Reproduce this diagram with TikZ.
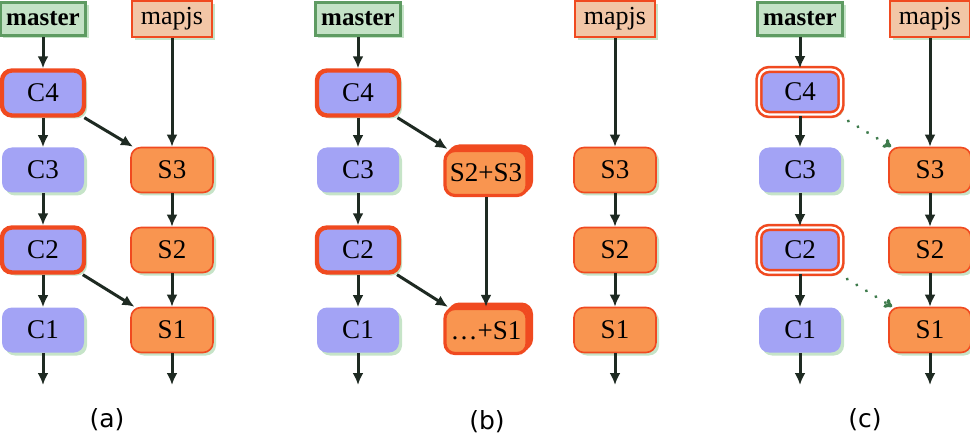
\documentclass[tikz,border=0pt]{standalone}
\usepackage{fontspec}
\setmainfont{Liberation Serif}
\newfontfamily\labelfont{DejaVu Sans}
\usetikzlibrary{shadows,arrows.meta}
\definecolor{cblue}{HTML}{A3A3F5}
\definecolor{corange}{HTML}{F99550}
\definecolor{cred}{HTML}{F04A20}
\definecolor{mgreenfill}{HTML}{C4E2C6}
\definecolor{mgreen}{HTML}{5E9B62}
\definecolor{mapfill}{HTML}{F2C6A6}
\definecolor{shadowgreen}{HTML}{C6E4C8}
\definecolor{dotgreen}{HTML}{3E7B4C}
\definecolor{arrowc}{HTML}{1E2A22}
\begin{document}
\begin{tikzpicture}[x=0.5pt,y=-0.5pt,
  every node/.style={font=\fontsize{13.5}{16}\selectfont},
  gshadow/.style={drop shadow={shadow xshift=1.5pt,shadow yshift=-1.5pt,fill=shadowgreen,opacity=1}},
  box/.style={rectangle,rounded corners=5pt,minimum width=41pt,minimum height=22.5pt,inner sep=0pt,gshadow},
  commit/.style={box,fill=cblue},
  patch/.style={box,fill=corange,draw=cred,line width=0.8pt},
  head/.style={draw=cred,line width=2.2pt},
  dhead/.style={draw=cred,line width=1.3pt,double=white,double distance=1.1pt},
  stacked/.style={rectangle,rounded corners=5pt,minimum width=41pt,minimum height=22.5pt,inner sep=0pt,
    fill=corange,draw=cred,line width=1.6pt,double copy shadow={shadow xshift=1.1pt,shadow yshift=1.1pt}},
  masterbox/.style={rectangle,fill=mgreenfill,draw=mgreen,line width=1.6pt,minimum height=16.5pt,inner xsep=3pt,inner ysep=0pt,font=\bfseries\fontsize{12.5}{15}\selectfont,gshadow},
  mapbox/.style={rectangle,fill=mapfill,draw=cred,line width=1.3pt,minimum height=18pt,inner xsep=4.5pt,inner ysep=0pt,font=\fontsize{13}{15}\selectfont,gshadow},
  arr/.style={-{Latex[length=6pt,width=5.5pt]},line width=1.5pt,draw=arrowc},
  darr/.style={-{To[length=4pt,width=5pt]},line width=1.6pt,draw=dotgreen,dash pattern=on 0.1pt off 5.5pt,line cap=round,shorten <=5pt},
  lab/.style={font=\labelfont\fontsize{12.5}{15}\selectfont}
]
\useasboundingbox (0,0) rectangle (970,444);

% ---------- panel (a)
\node[masterbox] (am) at (43,19) {master};
\node[mapbox] (aj) at (172,19) {mapjs};
\node[commit,head] (ac4) at (43,93) {C4};
\node[commit] (ac3) at (43,170) {C3};
\node[commit,head] (ac2) at (43,250) {C2};
\node[commit] (ac1) at (43,330) {C1};
\node[patch] (as3) at (172,170) {S3};
\node[patch] (as2) at (172,250) {S2};
\node[patch] (as1) at (172,330) {S1};
\coordinate (aec) at (43,385);
\coordinate (aes) at (172,385);
\draw[arr] (am) -- (ac4);
\draw[arr] (ac4) -- (ac3);
\draw[arr] (ac3) -- (ac2);
\draw[arr] (ac2) -- (ac1);
\draw[arr] (ac1) -- (aec);
\draw[arr] (aj) -- (as3);
\draw[arr] (as3) -- (as2);
\draw[arr] (as2) -- (as1);
\draw[arr] (as1) -- (aes);
\draw[arr] (ac4) -- (as3);
\draw[arr] (ac2) -- (as1);
\node[lab] (la) at (107,420) {(a)};

% ---------- panel (b)
\node[masterbox] (bm) at (358,19) {master};
\node[commit,head] (bc4) at (358,93) {C4};
\node[commit] (bc3) at (358,170) {C3};
\node[commit,head] (bc2) at (358,250) {C2};
\node[commit] (bc1) at (358,330) {C1};
\node[stacked] (bs23) at (486,173) {S2+S3};
\node[stacked] (bs1) at (486,331) {\dots+S1};
\node[mapbox] (bj) at (615,19) {mapjs};
\node[patch] (bs3) at (615,170) {S3};
\node[patch] (bs2) at (615,250) {S2};
\node[patch] (bsx1) at (615,330) {S1};
\coordinate (bec) at (358,385);
\coordinate (bes) at (615,385);
\draw[arr] (bm) -- (bc4);
\draw[arr] (bc4) -- (bc3);
\draw[arr] (bc3) -- (bc2);
\draw[arr] (bc2) -- (bc1);
\draw[arr] (bc1) -- (bec);
\draw[arr] (bc4) -- (bs23);
\draw[arr] (bc2) -- (bs1);
\draw[arr] (bs23) -- (bs1);
\draw[arr] (bj) -- (bs3);
\draw[arr] (bs3) -- (bs2);
\draw[arr] (bs2) -- (bsx1);
\draw[arr] (bsx1) -- (bes);
\node[lab] (lb) at (487,422) {(b)};

% ---------- panel (c)
\node[masterbox] (cm) at (800,19) {master};
\node[mapbox] (cj) at (930,19) {mapjs};
\node[commit,dhead] (cc4) at (800,92) {C4};
\node[commit] (cc3) at (800,170) {C3};
\node[commit,dhead] (cc2) at (800,250) {C2};
\node[commit] (cc1) at (800,330) {C1};
\node[patch] (cs3) at (930,170) {S3};
\node[patch] (cs2) at (930,250) {S2};
\node[patch] (cs1) at (930,330) {S1};
\coordinate (cec) at (800,385);
\coordinate (ces) at (930,385);
\draw[arr] (cm) -- (cc4);
\draw[arr] (cc4) -- (cc3);
\draw[arr] (cc3) -- (cc2);
\draw[arr] (cc2) -- (cc1);
\draw[arr] (cc1) -- (cec);
\draw[arr] (cj) -- (cs3);
\draw[arr] (cs3) -- (cs2);
\draw[arr] (cs2) -- (cs1);
\draw[arr] (cs1) -- (ces);
\draw[darr] (cc4) -- (cs3);
\draw[darr] (cc2) -- (cs1);
\node[lab] (lc) at (865,420) {(c)};
\end{tikzpicture}
\end{document}
